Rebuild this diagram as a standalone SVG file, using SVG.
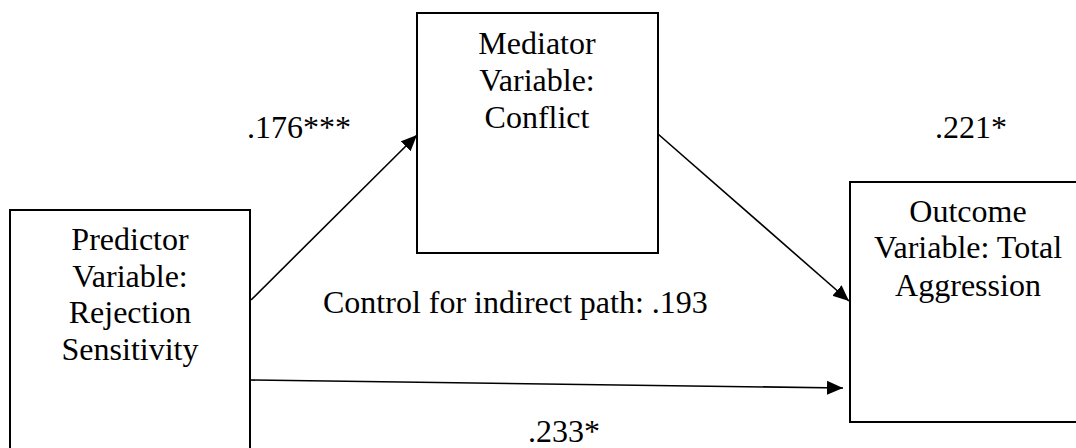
<svg xmlns="http://www.w3.org/2000/svg" width="1076" height="448" viewBox="0 0 1076 448">
<style>
.box{fill:#fff;stroke:#000;stroke-width:2}
.t{font-family:'Liberation Serif','Times New Roman',Times,'DejaVu Serif','Noto Serif',serif;font-size:32px;fill:#000}
.c{text-anchor:middle}
.conn{stroke:#000;stroke-width:1.6;fill:none;marker-end:url(#ah)}
</style>
<defs>
<marker id="ah" markerUnits="userSpaceOnUse" markerWidth="18" markerHeight="16" refX="16" refY="7" orient="auto">
<polygon points="0,0 16,7 0,14" fill="#000"/>
</marker>
</defs>
<rect width="1076" height="448" fill="#fff"/>
<g id="predictor">
<rect class="box" x="10" y="210" width="240" height="250"/>
<text class="t c" x="130" y="250">Predictor</text>
<text class="t c" x="130" y="287">Variable:</text>
<text class="t c" x="130" y="323">Rejection</text>
<text class="t c" x="130" y="360">Sensitivity</text>
</g>
<g id="mediator">
<rect class="box" x="417" y="13" width="241" height="240"/>
<text class="t c" x="537" y="54">Mediator</text>
<text class="t c" x="537" y="91">Variable:</text>
<text class="t c" x="537" y="128">Conflict</text>
</g>
<g id="outcome">
<rect class="box" x="850" y="182" width="238" height="240"/>
<text class="t c" x="968" y="222">Outcome</text>
<text class="t c" x="968" y="258">Variable: Total</text>
<text class="t c" x="968" y="296">Aggression</text>
</g>
<g id="connectors">
<line class="conn" x1="251" y1="300" x2="417" y2="135"/>
<line class="conn" x1="658" y1="134" x2="849" y2="301"/>
<line class="conn" x1="250" y1="380" x2="843" y2="388"/>
</g>
<g id="labels">
<text class="t" x="247" y="138">.176***</text>
<text class="t" x="935" y="138">.221*</text>
<text class="t" x="323" y="313">Control for indirect path: .193</text>
<text class="t" x="528" y="442">.233*</text>
</g>
</svg>
